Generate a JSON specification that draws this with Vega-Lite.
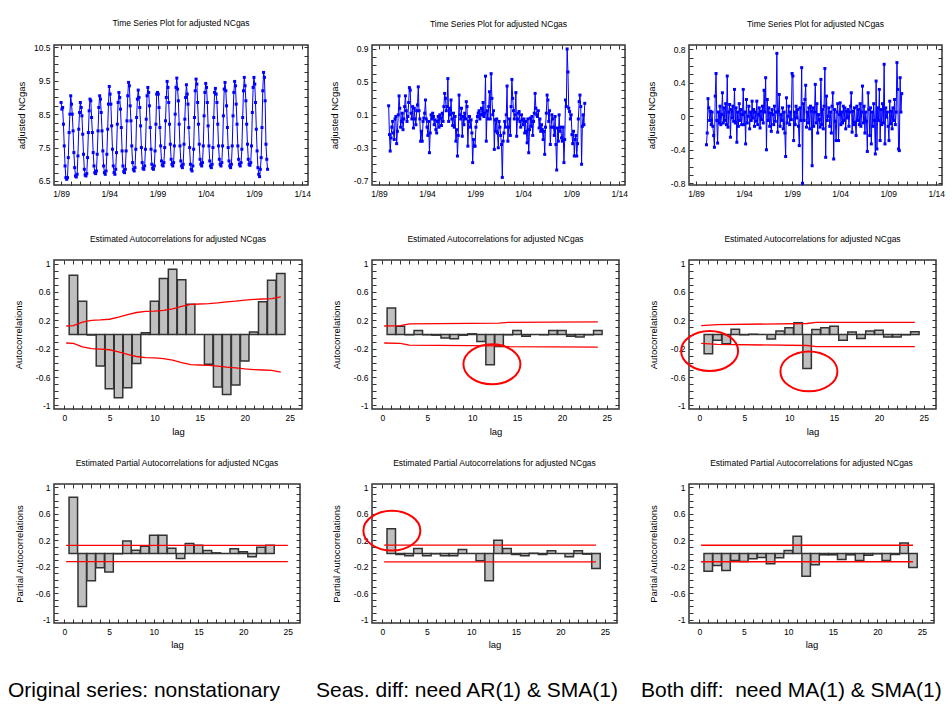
{
"$schema": "https://vega.github.io/schema/vega-lite/v6.json",
"background": "white",
"padding": {"left": 8, "top": 18, "right": 0, "bottom": 0},
"columns": 3,
"align": "each",
"bounds": "flush",
"spacing": {"row": 75, "column": 64},
"datasets": {
"ts1": [
{"t":"1989-01","v":8.85},{"t":"1989-02","v":8.65},{"t":"1989-03","v":8.7},{"t":"1989-04","v":8.2},{"t":"1989-05","v":7.55},{"t":"1989-06","v":6.95},{"t":"1989-07","v":6.6},{"t":"1989-08","v":6.55},{"t":"1989-09","v":6.6},{"t":"1989-10","v":7.2},{"t":"1989-11","v":7.95},{"t":"1989-12","v":8.5},
{"t":"1990-01","v":9.05},{"t":"1990-02","v":8.8},{"t":"1990-03","v":8.5},{"t":"1990-04","v":8.0},{"t":"1990-05","v":7.35},{"t":"1990-06","v":6.9},{"t":"1990-07","v":6.65},{"t":"1990-08","v":6.62},{"t":"1990-09","v":6.7},{"t":"1990-10","v":7.25},{"t":"1990-11","v":8.05},{"t":"1990-12","v":8.55},
{"t":"1991-01","v":8.85},{"t":"1991-02","v":8.7},{"t":"1991-03","v":8.45},{"t":"1991-04","v":7.9},{"t":"1991-05","v":7.3},{"t":"1991-06","v":6.85},{"t":"1991-07","v":6.68},{"t":"1991-08","v":6.65},{"t":"1991-09","v":6.72},{"t":"1991-10","v":7.2},{"t":"1991-11","v":7.95},{"t":"1991-12","v":8.6},
{"t":"1992-01","v":8.95},{"t":"1992-02","v":8.9},{"t":"1992-03","v":8.4},{"t":"1992-04","v":7.95},{"t":"1992-05","v":7.35},{"t":"1992-06","v":6.95},{"t":"1992-07","v":6.75},{"t":"1992-08","v":6.72},{"t":"1992-09","v":6.8},{"t":"1992-10","v":7.3},{"t":"1992-11","v":8.0},{"t":"1992-12","v":8.7},
{"t":"1993-01","v":9.05},{"t":"1993-02","v":8.95},{"t":"1993-03","v":8.55},{"t":"1993-04","v":8.0},{"t":"1993-05","v":7.4},{"t":"1993-06","v":6.95},{"t":"1993-07","v":6.75},{"t":"1993-08","v":6.7},{"t":"1993-09","v":6.8},{"t":"1993-10","v":7.3},{"t":"1993-11","v":8.05},{"t":"1993-12","v":8.8},
{"t":"1994-01","v":9.33},{"t":"1994-02","v":9.1},{"t":"1994-03","v":8.8},{"t":"1994-04","v":8.15},{"t":"1994-05","v":7.45},{"t":"1994-06","v":6.95},{"t":"1994-07","v":6.75},{"t":"1994-08","v":6.7},{"t":"1994-09","v":6.85},{"t":"1994-10","v":7.35},{"t":"1994-11","v":8.2},{"t":"1994-12","v":8.85},
{"t":"1995-01","v":9.15},{"t":"1995-02","v":9.0},{"t":"1995-03","v":8.65},{"t":"1995-04","v":8.1},{"t":"1995-05","v":7.4},{"t":"1995-06","v":6.95},{"t":"1995-07","v":6.78},{"t":"1995-08","v":6.75},{"t":"1995-09","v":6.85},{"t":"1995-10","v":7.4},{"t":"1995-11","v":8.3},{"t":"1995-12","v":9.05},
{"t":"1996-01","v":9.45},{"t":"1996-02","v":9.35},{"t":"1996-03","v":8.75},{"t":"1996-04","v":8.3},{"t":"1996-05","v":7.55},{"t":"1996-06","v":7.05},{"t":"1996-07","v":6.85},{"t":"1996-08","v":6.8},{"t":"1996-09","v":6.9},{"t":"1996-10","v":7.45},{"t":"1996-11","v":8.4},{"t":"1996-12","v":8.95},
{"t":"1997-01","v":9.22},{"t":"1997-02","v":9.0},{"t":"1997-03","v":8.7},{"t":"1997-04","v":8.15},{"t":"1997-05","v":7.5},{"t":"1997-06","v":7.05},{"t":"1997-07","v":6.88},{"t":"1997-08","v":6.85},{"t":"1997-09","v":6.95},{"t":"1997-10","v":7.45},{"t":"1997-11","v":8.35},{"t":"1997-12","v":9.05},
{"t":"1998-01","v":9.3},{"t":"1998-02","v":9.15},{"t":"1998-03","v":8.75},{"t":"1998-04","v":8.1},{"t":"1998-05","v":7.45},{"t":"1998-06","v":7.0},{"t":"1998-07","v":6.88},{"t":"1998-08","v":6.85},{"t":"1998-09","v":6.95},{"t":"1998-10","v":7.4},{"t":"1998-11","v":8.2},{"t":"1998-12","v":9.1},
{"t":"1999-01","v":9.15},{"t":"1999-02","v":9.1},{"t":"1999-03","v":8.7},{"t":"1999-04","v":8.1},{"t":"1999-05","v":7.55},{"t":"1999-06","v":7.1},{"t":"1999-07","v":6.98},{"t":"1999-08","v":6.95},{"t":"1999-09","v":7.05},{"t":"1999-10","v":7.5},{"t":"1999-11","v":8.3},{"t":"1999-12","v":9.0},
{"t":"2000-01","v":9.48},{"t":"2000-02","v":9.3},{"t":"2000-03","v":8.85},{"t":"2000-04","v":8.2},{"t":"2000-05","v":7.6},{"t":"2000-06","v":7.15},{"t":"2000-07","v":7.0},{"t":"2000-08","v":6.95},{"t":"2000-09","v":7.05},{"t":"2000-10","v":7.55},{"t":"2000-11","v":8.5},{"t":"2000-12","v":9.3},
{"t":"2001-01","v":9.58},{"t":"2001-02","v":9.25},{"t":"2001-03","v":8.9},{"t":"2001-04","v":8.2},{"t":"2001-05","v":7.55},{"t":"2001-06","v":7.1},{"t":"2001-07","v":6.95},{"t":"2001-08","v":6.9},{"t":"2001-09","v":7.0},{"t":"2001-10","v":7.6},{"t":"2001-11","v":8.35},{"t":"2001-12","v":9.0},
{"t":"2002-01","v":9.38},{"t":"2002-02","v":9.1},{"t":"2002-03","v":8.8},{"t":"2002-04","v":8.1},{"t":"2002-05","v":7.5},{"t":"2002-06","v":7.0},{"t":"2002-07","v":6.85},{"t":"2002-08","v":6.8},{"t":"2002-09","v":6.95},{"t":"2002-10","v":7.45},{"t":"2002-11","v":8.4},{"t":"2002-12","v":9.2},
{"t":"2003-01","v":9.55},{"t":"2003-02","v":9.4},{"t":"2003-03","v":8.85},{"t":"2003-04","v":8.2},{"t":"2003-05","v":7.6},{"t":"2003-06","v":7.15},{"t":"2003-07","v":7.0},{"t":"2003-08","v":6.95},{"t":"2003-09","v":7.05},{"t":"2003-10","v":7.55},{"t":"2003-11","v":8.45},{"t":"2003-12","v":9.15},
{"t":"2004-01","v":9.42},{"t":"2004-02","v":9.3},{"t":"2004-03","v":8.85},{"t":"2004-04","v":8.15},{"t":"2004-05","v":7.55},{"t":"2004-06","v":7.1},{"t":"2004-07","v":6.95},{"t":"2004-08","v":6.9},{"t":"2004-09","v":7.0},{"t":"2004-10","v":7.5},{"t":"2004-11","v":8.4},{"t":"2004-12","v":9.15},
{"t":"2005-01","v":9.27},{"t":"2005-02","v":9.1},{"t":"2005-03","v":8.85},{"t":"2005-04","v":8.2},{"t":"2005-05","v":7.55},{"t":"2005-06","v":7.15},{"t":"2005-07","v":7.0},{"t":"2005-08","v":6.95},{"t":"2005-09","v":7.05},{"t":"2005-10","v":7.55},{"t":"2005-11","v":8.45},{"t":"2005-12","v":9.25},
{"t":"2006-01","v":9.45},{"t":"2006-02","v":9.2},{"t":"2006-03","v":8.75},{"t":"2006-04","v":8.1},{"t":"2006-05","v":7.5},{"t":"2006-06","v":7.1},{"t":"2006-07","v":6.95},{"t":"2006-08","v":6.9},{"t":"2006-09","v":7.0},{"t":"2006-10","v":7.55},{"t":"2006-11","v":8.45},{"t":"2006-12","v":9.15},
{"t":"2007-01","v":9.48},{"t":"2007-02","v":9.35},{"t":"2007-03","v":8.8},{"t":"2007-04","v":8.2},{"t":"2007-05","v":7.55},{"t":"2007-06","v":7.15},{"t":"2007-07","v":7.0},{"t":"2007-08","v":6.95},{"t":"2007-09","v":7.05},{"t":"2007-10","v":7.45},{"t":"2007-11","v":8.4},{"t":"2007-12","v":9.2},
{"t":"2008-01","v":9.6},{"t":"2008-02","v":9.35},{"t":"2008-03","v":8.9},{"t":"2008-04","v":8.2},{"t":"2008-05","v":7.6},{"t":"2008-06","v":7.15},{"t":"2008-07","v":7.0},{"t":"2008-08","v":6.97},{"t":"2008-09","v":7.05},{"t":"2008-10","v":7.55},{"t":"2008-11","v":8.55},{"t":"2008-12","v":9.3},
{"t":"2009-01","v":9.6},{"t":"2009-02","v":9.4},{"t":"2009-03","v":8.85},{"t":"2009-04","v":8.05},{"t":"2009-05","v":7.4},{"t":"2009-06","v":6.9},{"t":"2009-07","v":6.7},{"t":"2009-08","v":6.63},{"t":"2009-09","v":6.85},{"t":"2009-10","v":7.2},{"t":"2009-11","v":8.1},{"t":"2009-12","v":9.2},
{"t":"2010-01","v":9.75},{"t":"2010-02","v":9.6},{"t":"2010-03","v":8.9},{"t":"2010-04","v":7.6},{"t":"2010-05","v":7.15},{"t":"2010-06","v":6.85}
],
"ts2": [
{"t":"1990-01","v":0.21},{"t":"1990-02","v":-0.14},{"t":"1990-03","v":-0.34},{"t":"1990-04","v":-0.18},{"t":"1990-05","v":-0.05},{"t":"1990-06","v":0.02},{"t":"1990-07","v":-0.12},{"t":"1990-08","v":-0.2},{"t":"1990-09","v":0.05},{"t":"1990-10","v":0.08},{"t":"1990-11","v":-0.25},{"t":"1990-12","v":-0.1},
{"t":"1991-01","v":0.1},{"t":"1991-02","v":0.33},{"t":"1991-03","v":0.18},{"t":"1991-04","v":-0.05},{"t":"1991-05","v":0.02},{"t":"1991-06","v":0.12},{"t":"1991-07","v":-0.08},{"t":"1991-08","v":0.05},{"t":"1991-09","v":0.2},{"t":"1991-10","v":0.33},{"t":"1991-11","v":0.15},{"t":"1991-12","v":0.02},
{"t":"1992-01","v":0.08},{"t":"1992-02","v":0.25},{"t":"1992-03","v":0.43},{"t":"1992-04","v":0.4},{"t":"1992-05","v":0.12},{"t":"1992-06","v":0.05},{"t":"1992-07","v":0.2},{"t":"1992-08","v":-0.06},{"t":"1992-09","v":0.18},{"t":"1992-10","v":0.05},{"t":"1992-11","v":-0.02},{"t":"1992-12","v":0.15},
{"t":"1993-01","v":0.22},{"t":"1993-02","v":0.44},{"t":"1993-03","v":0.15},{"t":"1993-04","v":0.05},{"t":"1993-05","v":-0.22},{"t":"1993-06","v":-0.1},{"t":"1993-07","v":-0.22},{"t":"1993-08","v":0.02},{"t":"1993-09","v":0.06},{"t":"1993-10","v":0.12},{"t":"1993-11","v":0.28},{"t":"1993-12","v":0.05},
{"t":"1994-01","v":-0.05},{"t":"1994-02","v":-0.15},{"t":"1994-03","v":0.02},{"t":"1994-04","v":-0.36},{"t":"1994-05","v":-0.12},{"t":"1994-06","v":0.1},{"t":"1994-07","v":0.05},{"t":"1994-08","v":0.12},{"t":"1994-09","v":0.08},{"t":"1994-10","v":-0.02},{"t":"1994-11","v":0.04},{"t":"1994-12","v":-0.08},
{"t":"1995-01","v":-0.12},{"t":"1995-02","v":0.02},{"t":"1995-03","v":0.08},{"t":"1995-04","v":-0.05},{"t":"1995-05","v":0.1},{"t":"1995-06","v":0.06},{"t":"1995-07","v":-0.03},{"t":"1995-08","v":0.12},{"t":"1995-09","v":0.02},{"t":"1995-10","v":0.2},{"t":"1995-11","v":0.36},{"t":"1995-12","v":0.3},
{"t":"1996-01","v":0.15},{"t":"1996-02","v":0.2},{"t":"1996-03","v":0.54},{"t":"1996-04","v":0.02},{"t":"1996-05","v":0.18},{"t":"1996-06","v":0.1},{"t":"1996-07","v":0.28},{"t":"1996-08","v":0.05},{"t":"1996-09","v":-0.03},{"t":"1996-10","v":0.12},{"t":"1996-11","v":-0.05},{"t":"1996-12","v":0.08},
{"t":"1997-01","v":-0.22},{"t":"1997-02","v":-0.08},{"t":"1997-03","v":-0.4},{"t":"1997-04","v":-0.15},{"t":"1997-05","v":0.34},{"t":"1997-06","v":0.1},{"t":"1997-07","v":0.05},{"t":"1997-08","v":0.18},{"t":"1997-09","v":-0.16},{"t":"1997-10","v":0.08},{"t":"1997-11","v":-0.02},{"t":"1997-12","v":0.12},
{"t":"1998-01","v":0.05},{"t":"1998-02","v":0.26},{"t":"1998-03","v":0.2},{"t":"1998-04","v":-0.28},{"t":"1998-05","v":0.02},{"t":"1998-06","v":0.08},{"t":"1998-07","v":-0.05},{"t":"1998-08","v":0.04},{"t":"1998-09","v":-0.12},{"t":"1998-10","v":-0.48},{"t":"1998-11","v":-0.2},{"t":"1998-12","v":-0.28},
{"t":"1999-01","v":-0.28},{"t":"1999-02","v":-0.05},{"t":"1999-03","v":0.02},{"t":"1999-04","v":0.08},{"t":"1999-05","v":0.12},{"t":"1999-06","v":0.15},{"t":"1999-07","v":0.05},{"t":"1999-08","v":0.1},{"t":"1999-09","v":0.18},{"t":"1999-10","v":0.1},{"t":"1999-11","v":0.25},{"t":"1999-12","v":0.08},
{"t":"2000-01","v":0.12},{"t":"2000-02","v":0.57},{"t":"2000-03","v":-0.22},{"t":"2000-04","v":0.15},{"t":"2000-05","v":0.05},{"t":"2000-06","v":0.2},{"t":"2000-07","v":0.38},{"t":"2000-08","v":0.05},{"t":"2000-09","v":0.6},{"t":"2000-10","v":0.3},{"t":"2000-11","v":0.1},{"t":"2000-12","v":0.15},
{"t":"2001-01","v":-0.32},{"t":"2001-02","v":0.04},{"t":"2001-03","v":-0.1},{"t":"2001-04","v":0.05},{"t":"2001-05","v":-0.12},{"t":"2001-06","v":-0.3},{"t":"2001-07","v":0.02},{"t":"2001-08","v":-0.05},{"t":"2001-09","v":-0.15},{"t":"2001-10","v":-0.26},{"t":"2001-11","v":-0.66},{"t":"2001-12","v":-0.22},
{"t":"2002-01","v":-0.12},{"t":"2002-02","v":0.02},{"t":"2002-03","v":-0.05},{"t":"2002-04","v":0.1},{"t":"2002-05","v":0.45},{"t":"2002-06","v":-0.22},{"t":"2002-07","v":-0.05},{"t":"2002-08","v":0.05},{"t":"2002-09","v":-0.15},{"t":"2002-10","v":0.2},{"t":"2002-11","v":0.53},{"t":"2002-12","v":0.3},
{"t":"2003-01","v":0.15},{"t":"2003-02","v":0.05},{"t":"2003-03","v":0.1},{"t":"2003-04","v":0.37},{"t":"2003-05","v":-0.16},{"t":"2003-06","v":0.05},{"t":"2003-07","v":0.12},{"t":"2003-08","v":0.14},{"t":"2003-09","v":0.02},{"t":"2003-10","v":-0.05},{"t":"2003-11","v":0.1},{"t":"2003-12","v":0.04},
{"t":"2004-01","v":-0.02},{"t":"2004-02","v":0.05},{"t":"2004-03","v":-0.12},{"t":"2004-04","v":0.02},{"t":"2004-05","v":-0.1},{"t":"2004-06","v":-0.24},{"t":"2004-07","v":0.05},{"t":"2004-08","v":-0.36},{"t":"2004-09","v":-0.08},{"t":"2004-10","v":0.06},{"t":"2004-11","v":-0.04},{"t":"2004-12","v":0.08},
{"t":"2005-01","v":-0.15},{"t":"2005-02","v":0.02},{"t":"2005-03","v":0.12},{"t":"2005-04","v":0.36},{"t":"2005-05","v":0.18},{"t":"2005-06","v":0.1},{"t":"2005-07","v":0.08},{"t":"2005-08","v":0.15},{"t":"2005-09","v":-0.06},{"t":"2005-10","v":0.05},{"t":"2005-11","v":-0.1},{"t":"2005-12","v":-0.02},
{"t":"2006-01","v":-0.08},{"t":"2006-02","v":-0.2},{"t":"2006-03","v":-0.1},{"t":"2006-04","v":-0.38},{"t":"2006-05","v":-0.05},{"t":"2006-06","v":0.12},{"t":"2006-07","v":0.34},{"t":"2006-08","v":0.28},{"t":"2006-09","v":0.02},{"t":"2006-10","v":0.15},{"t":"2006-11","v":-0.26},{"t":"2006-12","v":-0.05},
{"t":"2007-01","v":0.1},{"t":"2007-02","v":0.05},{"t":"2007-03","v":-0.05},{"t":"2007-04","v":-0.15},{"t":"2007-05","v":0.08},{"t":"2007-06","v":-0.26},{"t":"2007-07","v":-0.57},{"t":"2007-08","v":-0.06},{"t":"2007-09","v":-0.22},{"t":"2007-10","v":0.1},{"t":"2007-11","v":-0.1},{"t":"2007-12","v":-0.05},
{"t":"2008-01","v":-0.18},{"t":"2008-02","v":-0.22},{"t":"2008-03","v":-0.05},{"t":"2008-04","v":-0.48},{"t":"2008-05","v":-0.2},{"t":"2008-06","v":0.28},{"t":"2008-07","v":0.2},{"t":"2008-08","v":0.9},{"t":"2008-09","v":0.62},{"t":"2008-10","v":0.18},{"t":"2008-11","v":0.14},{"t":"2008-12","v":0.05},
{"t":"2009-01","v":0.1},{"t":"2009-02","v":-0.14},{"t":"2009-03","v":-0.25},{"t":"2009-04","v":-0.1},{"t":"2009-05","v":-0.4},{"t":"2009-06","v":-0.2},{"t":"2009-07","v":-0.15},{"t":"2009-08","v":-0.4},{"t":"2009-09","v":-0.25},{"t":"2009-10","v":0.05},{"t":"2009-11","v":0.26},{"t":"2009-12","v":0.34},
{"t":"2010-01","v":0.2},{"t":"2010-02","v":-0.5},{"t":"2010-03","v":-0.04},{"t":"2010-04","v":0.1},{"t":"2010-05","v":-0.02},{"t":"2010-06","v":0.24}
],
"ts3": [
{"t":"1990-02","v":-0.34},{"t":"1990-03","v":-0.2},{"t":"1990-04","v":0.21},{"t":"1990-05","v":0.1},{"t":"1990-06","v":-0.05},{"t":"1990-07","v":0.06},{"t":"1990-08","v":-0.1},{"t":"1990-09","v":0.05},{"t":"1990-10","v":-0.12},{"t":"1990-11","v":-0.23},{"t":"1990-12","v":-0.37},
{"t":"1991-01","v":0.24},{"t":"1991-02","v":0.51},{"t":"1991-03","v":-0.05},{"t":"1991-04","v":-0.32},{"t":"1991-05","v":0.05},{"t":"1991-06","v":-0.08},{"t":"1991-07","v":0.12},{"t":"1991-08","v":-0.1},{"t":"1991-09","v":0.02},{"t":"1991-10","v":0.28},{"t":"1991-11","v":-0.08},{"t":"1991-12","v":0.1},
{"t":"1992-01","v":-0.05},{"t":"1992-02","v":0.15},{"t":"1992-03","v":-0.1},{"t":"1992-04","v":0.48},{"t":"1992-05","v":-0.13},{"t":"1992-06","v":0.05},{"t":"1992-07","v":0.14},{"t":"1992-08","v":-0.25},{"t":"1992-09","v":0.08},{"t":"1992-10","v":-0.02},{"t":"1992-11","v":0.12},{"t":"1992-12","v":-0.06},
{"t":"1993-01","v":0.32},{"t":"1993-02","v":-0.08},{"t":"1993-03","v":0.1},{"t":"1993-04","v":-0.31},{"t":"1993-05","v":0.05},{"t":"1993-06","v":-0.12},{"t":"1993-07","v":0.15},{"t":"1993-08","v":-0.05},{"t":"1993-09","v":0.08},{"t":"1993-10","v":-0.1},{"t":"1993-11","v":0.02},{"t":"1993-12","v":0.32},
{"t":"1994-01","v":-0.1},{"t":"1994-02","v":0.05},{"t":"1994-03","v":-0.33},{"t":"1994-04","v":0.2},{"t":"1994-05","v":-0.08},{"t":"1994-06","v":0.0},{"t":"1994-07","v":0.12},{"t":"1994-08","v":-0.15},{"t":"1994-09","v":0.05},{"t":"1994-10","v":-0.05},{"t":"1994-11","v":0.18},{"t":"1994-12","v":-0.02},
{"t":"1995-01","v":0.08},{"t":"1995-02","v":-0.12},{"t":"1995-03","v":0.05},{"t":"1995-04","v":-0.06},{"t":"1995-05","v":0.18},{"t":"1995-06","v":-0.1},{"t":"1995-07","v":0.02},{"t":"1995-08","v":0.1},{"t":"1995-09","v":-0.14},{"t":"1995-10","v":0.06},{"t":"1995-11","v":-0.04},{"t":"1995-12","v":0.12},
{"t":"1996-01","v":-0.08},{"t":"1996-02","v":0.31},{"t":"1996-03","v":0.05},{"t":"1996-04","v":0.46},{"t":"1996-05","v":-0.4},{"t":"1996-06","v":0.2},{"t":"1996-07","v":-0.05},{"t":"1996-08","v":0.1},{"t":"1996-09","v":-0.12},{"t":"1996-10","v":0.04},{"t":"1996-11","v":-0.18},{"t":"1996-12","v":0.08},
{"t":"1997-01","v":0.02},{"t":"1997-02","v":-0.1},{"t":"1997-03","v":0.12},{"t":"1997-04","v":-0.06},{"t":"1997-05","v":0.05},{"t":"1997-06","v":0.75},{"t":"1997-07","v":-0.19},{"t":"1997-08","v":0.06},{"t":"1997-09","v":0.26},{"t":"1997-10","v":-0.12},{"t":"1997-11","v":0.02},{"t":"1997-12","v":-0.05},
{"t":"1998-01","v":0.1},{"t":"1998-02","v":-0.15},{"t":"1998-03","v":0.05},{"t":"1998-04","v":-0.2},{"t":"1998-05","v":-0.48},{"t":"1998-06","v":0.22},{"t":"1998-07","v":-0.08},{"t":"1998-08","v":0.0},{"t":"1998-09","v":0.12},{"t":"1998-10","v":-0.1},{"t":"1998-11","v":0.05},{"t":"1998-12","v":-0.04},
{"t":"1999-01","v":0.51},{"t":"1999-02","v":0.48},{"t":"1999-03","v":-0.29},{"t":"1999-04","v":0.05},{"t":"1999-05","v":-0.1},{"t":"1999-06","v":0.12},{"t":"1999-07","v":-0.02},{"t":"1999-08","v":0.08},{"t":"1999-09","v":-0.12},{"t":"1999-10","v":-0.35},{"t":"1999-11","v":0.1},{"t":"1999-12","v":-0.05},
{"t":"2000-01","v":0.58},{"t":"2000-02","v":-0.8},{"t":"2000-03","v":0.15},{"t":"2000-04","v":-0.05},{"t":"2000-05","v":0.2},{"t":"2000-06","v":0.37},{"t":"2000-07","v":-0.13},{"t":"2000-08","v":0.05},{"t":"2000-09","v":-0.08},{"t":"2000-10","v":0.1},{"t":"2000-11","v":-0.15},{"t":"2000-12","v":0.12},
{"t":"2001-01","v":0.06},{"t":"2001-02","v":-0.59},{"t":"2001-03","v":0.1},{"t":"2001-04","v":-0.12},{"t":"2001-05","v":0.05},{"t":"2001-06","v":0.38},{"t":"2001-07","v":-0.08},{"t":"2001-08","v":0.15},{"t":"2001-09","v":-0.2},{"t":"2001-10","v":0.02},{"t":"2001-11","v":-0.04},{"t":"2001-12","v":-0.13},
{"t":"2002-01","v":0.44},{"t":"2002-02","v":-0.1},{"t":"2002-03","v":0.08},{"t":"2002-04","v":-0.15},{"t":"2002-05","v":0.12},{"t":"2002-06","v":0.57},{"t":"2002-07","v":-0.49},{"t":"2002-08","v":0.24},{"t":"2002-09","v":-0.05},{"t":"2002-10","v":0.0},{"t":"2002-11","v":0.1},{"t":"2002-12","v":-0.12},
{"t":"2003-01","v":0.05},{"t":"2003-02","v":-0.2},{"t":"2003-03","v":0.12},{"t":"2003-04","v":0.28},{"t":"2003-05","v":-0.51},{"t":"2003-06","v":0.08},{"t":"2003-07","v":-0.06},{"t":"2003-08","v":-0.29},{"t":"2003-09","v":0.05},{"t":"2003-10","v":0.15},{"t":"2003-11","v":-0.29},{"t":"2003-12","v":0.02},
{"t":"2004-01","v":0.16},{"t":"2004-02","v":-0.1},{"t":"2004-03","v":0.05},{"t":"2004-04","v":-0.08},{"t":"2004-05","v":0.12},{"t":"2004-06","v":-0.05},{"t":"2004-07","v":0.1},{"t":"2004-08","v":-0.15},{"t":"2004-09","v":0.06},{"t":"2004-10","v":-0.02},{"t":"2004-11","v":0.08},{"t":"2004-12","v":-0.12},
{"t":"2005-01","v":0.05},{"t":"2005-02","v":0.12},{"t":"2005-03","v":0.28},{"t":"2005-04","v":-0.19},{"t":"2005-05","v":0.06},{"t":"2005-06","v":-0.1},{"t":"2005-07","v":0.1},{"t":"2005-08","v":-0.07},{"t":"2005-09","v":-0.23},{"t":"2005-10","v":0.12},{"t":"2005-11","v":-0.05},{"t":"2005-12","v":0.08},
{"t":"2006-01","v":-0.1},{"t":"2006-02","v":0.15},{"t":"2006-03","v":-0.12},{"t":"2006-04","v":0.05},{"t":"2006-05","v":0.36},{"t":"2006-06","v":-0.08},{"t":"2006-07","v":0.12},{"t":"2006-08","v":-0.2},{"t":"2006-09","v":0.05},{"t":"2006-10","v":-0.06},{"t":"2006-11","v":-0.42},{"t":"2006-12","v":0.28},
{"t":"2007-01","v":0.08},{"t":"2007-02","v":-0.23},{"t":"2007-03","v":0.1},{"t":"2007-04","v":-0.33},{"t":"2007-05","v":0.05},{"t":"2007-06","v":-0.12},{"t":"2007-07","v":0.15},{"t":"2007-08","v":-0.05},{"t":"2007-09","v":-0.45},{"t":"2007-10","v":0.42},{"t":"2007-11","v":-0.39},{"t":"2007-12","v":0.1},
{"t":"2008-01","v":-0.05},{"t":"2008-02","v":0.32},{"t":"2008-03","v":-0.29},{"t":"2008-04","v":0.08},{"t":"2008-05","v":-0.1},{"t":"2008-06","v":0.15},{"t":"2008-07","v":-0.08},{"t":"2008-08","v":0.62},{"t":"2008-09","v":-0.33},{"t":"2008-10","v":0.1},{"t":"2008-11","v":-0.01},{"t":"2008-12","v":0.05},
{"t":"2009-01","v":-0.12},{"t":"2009-02","v":-0.29},{"t":"2009-03","v":0.18},{"t":"2009-04","v":-0.09},{"t":"2009-05","v":0.06},{"t":"2009-06","v":-0.15},{"t":"2009-07","v":0.1},{"t":"2009-08","v":-0.05},{"t":"2009-09","v":0.2},{"t":"2009-10","v":-0.1},{"t":"2009-11","v":0.05},{"t":"2009-12","v":0.64},
{"t":"2010-01","v":0.32},{"t":"2010-02","v":-0.39},{"t":"2010-03","v":-0.41},{"t":"2010-04","v":0.46},{"t":"2010-05","v":0.05},{"t":"2010-06","v":0.27}
],
"a1": [{"lag":1,"r":0.835},{"lag":2,"r":0.47},{"lag":3,"r":-0.008},{"lag":4,"r":-0.445},{"lag":5,"r":-0.765},{"lag":6,"r":-0.89},{"lag":7,"r":-0.75},{"lag":8,"r":-0.41},{"lag":9,"r":0.025},{"lag":10,"r":0.47},{"lag":11,"r":0.79},{"lag":12,"r":0.92},{"lag":13,"r":0.77},{"lag":14,"r":0.425},{"lag":15,"r":0.0},{"lag":16,"r":-0.42},{"lag":17,"r":-0.74},{"lag":18,"r":-0.845},{"lag":19,"r":-0.71},{"lag":20,"r":-0.375},{"lag":21,"r":0.035},{"lag":22,"r":0.46},{"lag":23,"r":0.765},{"lag":24,"r":0.86}],
"a2": [{"lag":1,"r":0.375},{"lag":2,"r":0.115},{"lag":3,"r":-0.005},{"lag":4,"r":0.055},{"lag":5,"r":-0.005},{"lag":6,"r":-0.01},{"lag":7,"r":-0.05},{"lag":8,"r":-0.06},{"lag":9,"r":-0.01},{"lag":10,"r":0.01},{"lag":11,"r":-0.1},{"lag":12,"r":-0.425},{"lag":13,"r":-0.17},{"lag":14,"r":-0.005},{"lag":15,"r":0.055},{"lag":16,"r":-0.025},{"lag":17,"r":0.0},{"lag":18,"r":-0.005},{"lag":19,"r":0.055},{"lag":20,"r":0.055},{"lag":21,"r":-0.025},{"lag":22,"r":-0.035},{"lag":23,"r":-0.005},{"lag":24,"r":0.055}],
"a3": [{"lag":1,"r":-0.27},{"lag":2,"r":-0.08},{"lag":3,"r":-0.13},{"lag":4,"r":0.075},{"lag":5,"r":-0.005},{"lag":6,"r":0.005},{"lag":7,"r":0.0},{"lag":8,"r":-0.065},{"lag":9,"r":0.05},{"lag":10,"r":0.095},{"lag":11,"r":0.165},{"lag":12,"r":-0.48},{"lag":13,"r":0.07},{"lag":14,"r":0.095},{"lag":15,"r":0.115},{"lag":16,"r":-0.08},{"lag":17,"r":0.035},{"lag":18,"r":-0.055},{"lag":19,"r":0.05},{"lag":20,"r":0.06},{"lag":21,"r":-0.035},{"lag":22,"r":-0.035},{"lag":23,"r":-0.005},{"lag":24,"r":0.04}],
"q1": [{"lag":1,"r":0.85},{"lag":2,"r":-0.8},{"lag":3,"r":-0.41},{"lag":4,"r":-0.215},{"lag":5,"r":-0.28},{"lag":6,"r":-0.005},{"lag":7,"r":0.19},{"lag":8,"r":0.05},{"lag":9,"r":0.11},{"lag":10,"r":0.275},{"lag":11,"r":0.275},{"lag":12,"r":0.08},{"lag":13,"r":-0.075},{"lag":14,"r":0.15},{"lag":15,"r":0.125},{"lag":16,"r":0.045},{"lag":17,"r":0.01},{"lag":18,"r":0.0},{"lag":19,"r":0.07},{"lag":20,"r":0.025},{"lag":21,"r":-0.05},{"lag":22,"r":0.095},{"lag":23,"r":0.125}],
"q2": [{"lag":1,"r":0.375},{"lag":2,"r":-0.015},{"lag":3,"r":-0.035},{"lag":4,"r":0.075},{"lag":5,"r":-0.035},{"lag":6,"r":-0.005},{"lag":7,"r":-0.035},{"lag":8,"r":-0.035},{"lag":9,"r":0.06},{"lag":10,"r":0.0},{"lag":11,"r":-0.11},{"lag":12,"r":-0.41},{"lag":13,"r":0.2},{"lag":14,"r":0.075},{"lag":15,"r":-0.015},{"lag":16,"r":-0.035},{"lag":17,"r":0.005},{"lag":18,"r":-0.015},{"lag":19,"r":0.04},{"lag":20,"r":0.0},{"lag":21,"r":-0.05},{"lag":22,"r":0.04},{"lag":23,"r":-0.01},{"lag":24,"r":-0.225}],
"q3": [{"lag":1,"r":-0.27},{"lag":2,"r":-0.18},{"lag":3,"r":-0.255},{"lag":4,"r":-0.105},{"lag":5,"r":-0.12},{"lag":6,"r":-0.08},{"lag":7,"r":-0.06},{"lag":8,"r":-0.155},{"lag":9,"r":-0.065},{"lag":10,"r":0.045},{"lag":11,"r":0.26},{"lag":12,"r":-0.345},{"lag":13,"r":-0.17},{"lag":14,"r":-0.02},{"lag":15,"r":-0.02},{"lag":16,"r":-0.09},{"lag":17,"r":-0.02},{"lag":18,"r":-0.105},{"lag":19,"r":-0.025},{"lag":20,"r":-0.005},{"lag":21,"r":-0.105},{"lag":22,"r":-0.015},{"lag":23,"r":0.16},{"lag":24,"r":-0.21}],
"la1": [
{"lag":0.2,"r":0.12,"k":"u"},{"lag":1,"r":0.125,"k":"u"},{"lag":2,"r":0.175,"k":"u"},{"lag":3,"r":0.2,"k":"u"},{"lag":4,"r":0.205,"k":"u"},{"lag":5,"r":0.215,"k":"u"},{"lag":6,"r":0.245,"k":"u"},{"lag":7,"r":0.28,"k":"u"},{"lag":8,"r":0.31,"k":"u"},{"lag":9,"r":0.325,"k":"u"},{"lag":10,"r":0.33,"k":"u"},{"lag":11,"r":0.34,"k":"u"},{"lag":12,"r":0.36,"k":"u"},{"lag":13,"r":0.395,"k":"u"},{"lag":14,"r":0.425,"k":"u"},{"lag":15,"r":0.43,"k":"u"},{"lag":16,"r":0.435,"k":"u"},{"lag":17,"r":0.445,"k":"u"},{"lag":18,"r":0.46,"k":"u"},{"lag":19,"r":0.47,"k":"u"},{"lag":20,"r":0.485,"k":"u"},{"lag":21,"r":0.495,"k":"u"},{"lag":22,"r":0.5,"k":"u"},{"lag":23,"r":0.505,"k":"u"},{"lag":24,"r":0.53,"k":"u"},
{"lag":0.2,"r":-0.12,"k":"l"},{"lag":1,"r":-0.125,"k":"l"},{"lag":2,"r":-0.175,"k":"l"},{"lag":3,"r":-0.2,"k":"l"},{"lag":4,"r":-0.205,"k":"l"},{"lag":5,"r":-0.215,"k":"l"},{"lag":6,"r":-0.245,"k":"l"},{"lag":7,"r":-0.28,"k":"l"},{"lag":8,"r":-0.31,"k":"l"},{"lag":9,"r":-0.325,"k":"l"},{"lag":10,"r":-0.33,"k":"l"},{"lag":11,"r":-0.34,"k":"l"},{"lag":12,"r":-0.36,"k":"l"},{"lag":13,"r":-0.395,"k":"l"},{"lag":14,"r":-0.425,"k":"l"},{"lag":15,"r":-0.43,"k":"l"},{"lag":16,"r":-0.435,"k":"l"},{"lag":17,"r":-0.445,"k":"l"},{"lag":18,"r":-0.46,"k":"l"},{"lag":19,"r":-0.47,"k":"l"},{"lag":20,"r":-0.485,"k":"l"},{"lag":21,"r":-0.495,"k":"l"},{"lag":22,"r":-0.5,"k":"l"},{"lag":23,"r":-0.505,"k":"l"},{"lag":24,"r":-0.53,"k":"l"}],
"la2": [{"lag":0.2,"r":0.12,"k":"u"},{"lag":2,"r":0.125,"k":"u"},{"lag":3,"r":0.15,"k":"u"},{"lag":13,"r":0.16,"k":"u"},{"lag":14,"r":0.172,"k":"u"},{"lag":24,"r":0.177,"k":"u"},
{"lag":0.2,"r":-0.12,"k":"l"},{"lag":2,"r":-0.125,"k":"l"},{"lag":3,"r":-0.15,"k":"l"},{"lag":13,"r":-0.16,"k":"l"},{"lag":14,"r":-0.172,"k":"l"},{"lag":24,"r":-0.177,"k":"l"}],
"la3": [{"lag":0.2,"r":0.125,"k":"u"},{"lag":2,"r":0.14,"k":"u"},{"lag":12,"r":0.155,"k":"u"},{"lag":13,"r":0.17,"k":"u"},{"lag":24,"r":0.172,"k":"u"},
{"lag":0.2,"r":-0.125,"k":"l"},{"lag":2,"r":-0.14,"k":"l"},{"lag":12,"r":-0.155,"k":"l"},{"lag":13,"r":-0.17,"k":"l"},{"lag":24,"r":-0.172,"k":"l"}],
"lq1": [{"lag":0.2,"r":0.124,"k":"u"},{"lag":25,"r":0.124,"k":"u"},{"lag":0.2,"r":-0.124,"k":"l"},{"lag":25,"r":-0.124,"k":"l"}],
"lq2": [{"lag":0.2,"r":0.127,"k":"u"},{"lag":24,"r":0.127,"k":"u"},{"lag":0.2,"r":-0.127,"k":"l"},{"lag":24,"r":-0.127,"k":"l"}],
"lq3": [{"lag":0.2,"r":0.125,"k":"u"},{"lag":24,"r":0.125,"k":"u"},{"lag":0.2,"r":-0.125,"k":"l"},{"lag":24,"r":-0.125,"k":"l"}],
"ea2": [{"lag":12.2,"r":-0.42}],
"ea3": [{"lag":1.14,"r":-0.233},{"lag":12.2,"r":-0.52}],
"eq2": [{"lag":1.07,"r":0.345}]
},
"concat": [
{"width":254,"height":140,"title":"Time Series Plot for adjusted NCgas","data":{"name":"ts1"},
 "resolve":{"axis":{"x":"independent","y":"independent"}},
 "layer":[
  {"mark":{"type":"line","color":"#0000ff","strokeWidth":1},
   "encoding":{
    "x":{"field":"t","type":"temporal","scale":{"type":"utc","domain":[{"year":1988,"month":4,"date":8,"utc":true},{"year":2014,"month":8,"date":10,"utc":true}]},"axis":{"title":null,"labelExpr":"utcyear(datum.value) % 5 == 4 ? utcFormat(datum.value, '%-m/%y') : ''","values":[{"year":1989,"utc":true},{"year":1990,"utc":true},{"year":1991,"utc":true},{"year":1992,"utc":true},{"year":1993,"utc":true},{"year":1994,"utc":true},{"year":1995,"utc":true},{"year":1996,"utc":true},{"year":1997,"utc":true},{"year":1998,"utc":true},{"year":1999,"utc":true},{"year":2000,"utc":true},{"year":2001,"utc":true},{"year":2002,"utc":true},{"year":2003,"utc":true},{"year":2004,"utc":true},{"year":2005,"utc":true},{"year":2006,"utc":true},{"year":2007,"utc":true},{"year":2008,"utc":true},{"year":2009,"utc":true},{"year":2010,"utc":true},{"year":2011,"utc":true},{"year":2012,"utc":true},{"year":2013,"utc":true},{"year":2014,"utc":true}]}},
    "y":{"field":"v","type":"quantitative","scale":{"domain":[6.38,10.57],"zero":false,"nice":false},"axis":{"title":"adjusted NCgas","titleX":-33,"labelExpr":"round(datum.value*4) % 4 == 2 ? format(datum.value, '~g') : ''","values":[6.5,6.75,7,7.25,7.5,7.75,8,8.25,8.5,8.75,9,9.25,9.5,9.75,10,10.25,10.5]}}}},
  {"mark":{"type":"point","shape":"square","size":9,"filled":true,"color":"#0000ff","opacity":1},
   "encoding":{
    "x":{"field":"t","type":"temporal","scale":{"type":"utc","domain":[{"year":1988,"month":4,"date":8,"utc":true},{"year":2014,"month":8,"date":10,"utc":true}]},"axis":{"orient":"top","labels":false,"title":null,"values":[{"year":1989,"utc":true},{"year":1990,"utc":true},{"year":1991,"utc":true},{"year":1992,"utc":true},{"year":1993,"utc":true},{"year":1994,"utc":true},{"year":1995,"utc":true},{"year":1996,"utc":true},{"year":1997,"utc":true},{"year":1998,"utc":true},{"year":1999,"utc":true},{"year":2000,"utc":true},{"year":2001,"utc":true},{"year":2002,"utc":true},{"year":2003,"utc":true},{"year":2004,"utc":true},{"year":2005,"utc":true},{"year":2006,"utc":true},{"year":2007,"utc":true},{"year":2008,"utc":true},{"year":2009,"utc":true},{"year":2010,"utc":true},{"year":2011,"utc":true},{"year":2012,"utc":true},{"year":2013,"utc":true},{"year":2014,"utc":true}]}},
    "y":{"field":"v","type":"quantitative","scale":{"domain":[6.38,10.57],"zero":false,"nice":false},"axis":{"orient":"right","labels":false,"title":null,"values":[6.5,6.75,7,7.25,7.5,7.75,8,8.25,8.5,8.75,9,9.25,9.5,9.75,10,10.25,10.5]}}}}
 ]},
{"width":253,"height":140,"title":"Time Series Plot for adjusted NCgas","data":{"name":"ts2"},
 "resolve":{"axis":{"x":"independent","y":"independent"}},
 "layer":[
  {"mark":{"type":"line","color":"#0000ff","strokeWidth":1},
   "encoding":{
    "x":{"field":"t","type":"temporal","scale":{"type":"utc","domain":[{"year":1988,"month":4,"date":8,"utc":true},{"year":2014,"month":8,"date":10,"utc":true}]},"axis":{"title":null,"labelExpr":"utcyear(datum.value) % 5 == 4 ? utcFormat(datum.value, '%-m/%y') : ''","values":[{"year":1989,"utc":true},{"year":1990,"utc":true},{"year":1991,"utc":true},{"year":1992,"utc":true},{"year":1993,"utc":true},{"year":1994,"utc":true},{"year":1995,"utc":true},{"year":1996,"utc":true},{"year":1997,"utc":true},{"year":1998,"utc":true},{"year":1999,"utc":true},{"year":2000,"utc":true},{"year":2001,"utc":true},{"year":2002,"utc":true},{"year":2003,"utc":true},{"year":2004,"utc":true},{"year":2005,"utc":true},{"year":2006,"utc":true},{"year":2007,"utc":true},{"year":2008,"utc":true},{"year":2009,"utc":true},{"year":2010,"utc":true},{"year":2011,"utc":true},{"year":2012,"utc":true},{"year":2013,"utc":true},{"year":2014,"utc":true}]}},
    "y":{"field":"v","type":"quantitative","scale":{"domain":[-0.752,0.948],"zero":false,"nice":false},"axis":{"title":"adjusted NCgas","titleX":-38,"labelExpr":"(round(datum.value*10)+7) % 4 == 0 ? replace(format(datum.value, '~g'), '\u2212', '-') : ''","values":[-0.7,-0.6,-0.5,-0.4,-0.3,-0.2,-0.1,0,0.1,0.2,0.3,0.4,0.5,0.6,0.7,0.8,0.9]}}}},
  {"mark":{"type":"point","shape":"square","size":9,"filled":true,"color":"#0000ff","opacity":1},
   "encoding":{
    "x":{"field":"t","type":"temporal","scale":{"type":"utc","domain":[{"year":1988,"month":4,"date":8,"utc":true},{"year":2014,"month":8,"date":10,"utc":true}]},"axis":{"orient":"top","labels":false,"title":null,"values":[{"year":1989,"utc":true},{"year":1990,"utc":true},{"year":1991,"utc":true},{"year":1992,"utc":true},{"year":1993,"utc":true},{"year":1994,"utc":true},{"year":1995,"utc":true},{"year":1996,"utc":true},{"year":1997,"utc":true},{"year":1998,"utc":true},{"year":1999,"utc":true},{"year":2000,"utc":true},{"year":2001,"utc":true},{"year":2002,"utc":true},{"year":2003,"utc":true},{"year":2004,"utc":true},{"year":2005,"utc":true},{"year":2006,"utc":true},{"year":2007,"utc":true},{"year":2008,"utc":true},{"year":2009,"utc":true},{"year":2010,"utc":true},{"year":2011,"utc":true},{"year":2012,"utc":true},{"year":2013,"utc":true},{"year":2014,"utc":true}]}},
    "y":{"field":"v","type":"quantitative","scale":{"domain":[-0.752,0.948],"zero":false,"nice":false},"axis":{"orient":"right","labels":false,"title":null,"values":[-0.7,-0.6,-0.5,-0.4,-0.3,-0.2,-0.1,0,0.1,0.2,0.3,0.4,0.5,0.6,0.7,0.8,0.9]}}}}
 ]},
{"width":253,"height":140,"title":"Time Series Plot for adjusted NCgas","data":{"name":"ts3"},
 "resolve":{"axis":{"x":"independent","y":"independent"}},
 "layer":[
  {"mark":{"type":"line","color":"#0000ff","strokeWidth":1},
   "encoding":{
    "x":{"field":"t","type":"temporal","scale":{"type":"utc","domain":[{"year":1988,"month":4,"date":8,"utc":true},{"year":2014,"month":8,"date":10,"utc":true}]},"axis":{"title":null,"labelExpr":"utcyear(datum.value) % 5 == 4 ? utcFormat(datum.value, '%-m/%y') : ''","values":[{"year":1989,"utc":true},{"year":1990,"utc":true},{"year":1991,"utc":true},{"year":1992,"utc":true},{"year":1993,"utc":true},{"year":1994,"utc":true},{"year":1995,"utc":true},{"year":1996,"utc":true},{"year":1997,"utc":true},{"year":1998,"utc":true},{"year":1999,"utc":true},{"year":2000,"utc":true},{"year":2001,"utc":true},{"year":2002,"utc":true},{"year":2003,"utc":true},{"year":2004,"utc":true},{"year":2005,"utc":true},{"year":2006,"utc":true},{"year":2007,"utc":true},{"year":2008,"utc":true},{"year":2009,"utc":true},{"year":2010,"utc":true},{"year":2011,"utc":true},{"year":2012,"utc":true},{"year":2013,"utc":true},{"year":2014,"utc":true}]}},
    "y":{"field":"v","type":"quantitative","scale":{"domain":[-0.82,0.85],"zero":false,"nice":false},"axis":{"title":"adjusted NCgas","titleX":-38,"labelExpr":"(round(datum.value*10)+8) % 4 == 0 ? replace(format(datum.value, '~g'), '\u2212', '-') : ''","values":[-0.8,-0.7,-0.6,-0.5,-0.4,-0.3,-0.2,-0.1,0,0.1,0.2,0.3,0.4,0.5,0.6,0.7,0.8]}}}},
  {"mark":{"type":"point","shape":"square","size":9,"filled":true,"color":"#0000ff","opacity":1},
   "encoding":{
    "x":{"field":"t","type":"temporal","scale":{"type":"utc","domain":[{"year":1988,"month":4,"date":8,"utc":true},{"year":2014,"month":8,"date":10,"utc":true}]},"axis":{"orient":"top","labels":false,"title":null,"values":[{"year":1989,"utc":true},{"year":1990,"utc":true},{"year":1991,"utc":true},{"year":1992,"utc":true},{"year":1993,"utc":true},{"year":1994,"utc":true},{"year":1995,"utc":true},{"year":1996,"utc":true},{"year":1997,"utc":true},{"year":1998,"utc":true},{"year":1999,"utc":true},{"year":2000,"utc":true},{"year":2001,"utc":true},{"year":2002,"utc":true},{"year":2003,"utc":true},{"year":2004,"utc":true},{"year":2005,"utc":true},{"year":2006,"utc":true},{"year":2007,"utc":true},{"year":2008,"utc":true},{"year":2009,"utc":true},{"year":2010,"utc":true},{"year":2011,"utc":true},{"year":2012,"utc":true},{"year":2013,"utc":true},{"year":2014,"utc":true}]}},
    "y":{"field":"v","type":"quantitative","scale":{"domain":[-0.82,0.85],"zero":false,"nice":false},"axis":{"orient":"right","labels":false,"title":null,"values":[-0.8,-0.7,-0.6,-0.5,-0.4,-0.3,-0.2,-0.1,0,0.1,0.2,0.3,0.4,0.5,0.6,0.7,0.8]}}}}
 ]},
{"width":248,"height":149,"title":"Estimated Autocorrelations for adjusted NCgas",
 "resolve":{"axis":{"x":"independent","y":"independent"}},
 "encoding":{
  "x":{"field":"lag","type":"quantitative","scale":{"domain":[-0.6,25.8],"nice":false,"zero":false},"axis":{"title":"lag","titleY":22,"labelExpr":"datum.value % 5 == 0 ? datum.label : ''","values":[0,1,2,3,4,5,6,7,8,9,10,11,12,13,14,15,16,17,18,19,20,21,22,23,24,25]}},
  "y":{"field":"r","type":"quantitative","scale":{"domain":[-1.05,1.05],"nice":false},"axis":{"title":"Autocorrelations","titleX":-36,"labelExpr":"(round(datum.value*10)+10) % 4 == 0 ? replace(format(datum.value, '~g'), '\u2212', '-') : ''","values":[-1,-0.9,-0.8,-0.7,-0.6,-0.5,-0.4,-0.3,-0.2,-0.1,0,0.1,0.2,0.3,0.4,0.5,0.6,0.7,0.8,0.9,1]}}},
 "layer":[
  {"data":{"name":"a1"},"mark":{"type":"bar","width":8.5,"fill":"#c0c0c0","stroke":"#333333","strokeWidth":1.5},"encoding":{"y2":{"datum":0}}},
  {"data":{"name":"la1"},"mark":{"type":"line","color":"#ff0000","strokeWidth":1.3},"encoding":{"detail":{"field":"k"},
   "x":{"field":"lag","type":"quantitative","scale":{"domain":[-0.6,25.8],"nice":false,"zero":false},"axis":{"orient":"top","labels":false,"title":null,"values":[0,1,2,3,4,5,6,7,8,9,10,11,12,13,14,15,16,17,18,19,20,21,22,23,24,25]}},
   "y":{"field":"r","type":"quantitative","scale":{"domain":[-1.05,1.05],"nice":false},"axis":{"orient":"right","labels":false,"title":null,"values":[-1,-0.9,-0.8,-0.7,-0.6,-0.5,-0.4,-0.3,-0.2,-0.1,0,0.1,0.2,0.3,0.4,0.5,0.6,0.7,0.8,0.9,1]}}}}
 ]},
{"width":247,"height":149,"title":"Estimated Autocorrelations for adjusted NCgas",
 "resolve":{"axis":{"x":"independent","y":"independent"}},
 "encoding":{
  "x":{"field":"lag","type":"quantitative","scale":{"domain":[-0.6,25.8],"nice":false,"zero":false},"axis":{"title":"lag","titleY":22,"labelExpr":"datum.value % 5 == 0 ? datum.label : ''","values":[0,1,2,3,4,5,6,7,8,9,10,11,12,13,14,15,16,17,18,19,20,21,22,23,24,25]}},
  "y":{"field":"r","type":"quantitative","scale":{"domain":[-1.05,1.05],"nice":false},"axis":{"title":"Autocorrelations","titleX":-36,"labelExpr":"(round(datum.value*10)+10) % 4 == 0 ? replace(format(datum.value, '~g'), '\u2212', '-') : ''","values":[-1,-0.9,-0.8,-0.7,-0.6,-0.5,-0.4,-0.3,-0.2,-0.1,0,0.1,0.2,0.3,0.4,0.5,0.6,0.7,0.8,0.9,1]}}},
 "layer":[
  {"data":{"name":"a2"},"mark":{"type":"bar","width":8.5,"fill":"#c0c0c0","stroke":"#333333","strokeWidth":1.5},"encoding":{"y2":{"datum":0}}},
  {"data":{"name":"la2"},"mark":{"type":"line","color":"#ff0000","strokeWidth":1.3},"encoding":{"detail":{"field":"k"},
   "x":{"field":"lag","type":"quantitative","scale":{"domain":[-0.6,25.8],"nice":false,"zero":false},"axis":{"orient":"top","labels":false,"title":null,"values":[0,1,2,3,4,5,6,7,8,9,10,11,12,13,14,15,16,17,18,19,20,21,22,23,24,25]}},
   "y":{"field":"r","type":"quantitative","scale":{"domain":[-1.05,1.05],"nice":false},"axis":{"orient":"right","labels":false,"title":null,"values":[-1,-0.9,-0.8,-0.7,-0.6,-0.5,-0.4,-0.3,-0.2,-0.1,0,0.1,0.2,0.3,0.4,0.5,0.6,0.7,0.8,0.9,1]}}}},
  {"data":{"name":"ea2"},"mark":{"type":"point","shape":"M -1 0 A 1 0.7 0 1 1 1 0 A 1 0.7 0 1 1 -1 0 Z","size":3249,"filled":false,"color":"#ff0000","strokeWidth":2,"opacity":1},
   "encoding":{"x":{"field":"lag","type":"quantitative","scale":{"domain":[-0.6,25.8],"nice":false,"zero":false},"axis":null},"y":{"field":"r","type":"quantitative","scale":{"domain":[-1.05,1.05],"nice":false},"axis":null}}}
 ]},
{"width":247,"height":149,"title":"Estimated Autocorrelations for adjusted NCgas",
 "resolve":{"axis":{"x":"independent","y":"independent"}},
 "encoding":{
  "x":{"field":"lag","type":"quantitative","scale":{"domain":[-0.6,25.8],"nice":false,"zero":false},"axis":{"title":"lag","titleY":22,"labelExpr":"datum.value % 5 == 0 ? datum.label : ''","values":[0,1,2,3,4,5,6,7,8,9,10,11,12,13,14,15,16,17,18,19,20,21,22,23,24,25]}},
  "y":{"field":"r","type":"quantitative","scale":{"domain":[-1.05,1.05],"nice":false},"axis":{"title":"Autocorrelations","titleX":-36,"labelExpr":"(round(datum.value*10)+10) % 4 == 0 ? replace(format(datum.value, '~g'), '\u2212', '-') : ''","values":[-1,-0.9,-0.8,-0.7,-0.6,-0.5,-0.4,-0.3,-0.2,-0.1,0,0.1,0.2,0.3,0.4,0.5,0.6,0.7,0.8,0.9,1]}}},
 "layer":[
  {"data":{"name":"a3"},"mark":{"type":"bar","width":8.5,"fill":"#c0c0c0","stroke":"#333333","strokeWidth":1.5},"encoding":{"y2":{"datum":0}}},
  {"data":{"name":"la3"},"mark":{"type":"line","color":"#ff0000","strokeWidth":1.3},"encoding":{"detail":{"field":"k"},
   "x":{"field":"lag","type":"quantitative","scale":{"domain":[-0.6,25.8],"nice":false,"zero":false},"axis":{"orient":"top","labels":false,"title":null,"values":[0,1,2,3,4,5,6,7,8,9,10,11,12,13,14,15,16,17,18,19,20,21,22,23,24,25]}},
   "y":{"field":"r","type":"quantitative","scale":{"domain":[-1.05,1.05],"nice":false},"axis":{"orient":"right","labels":false,"title":null,"values":[-1,-0.9,-0.8,-0.7,-0.6,-0.5,-0.4,-0.3,-0.2,-0.1,0,0.1,0.2,0.3,0.4,0.5,0.6,0.7,0.8,0.9,1]}}}},
  {"data":{"name":"ea3"},"mark":{"type":"point","shape":"M -1 0 A 1 0.7 0 1 1 1 0 A 1 0.7 0 1 1 -1 0 Z","size":3249,"filled":false,"color":"#ff0000","strokeWidth":2,"opacity":1},
   "encoding":{"x":{"field":"lag","type":"quantitative","scale":{"domain":[-0.6,25.8],"nice":false,"zero":false},"axis":null},"y":{"field":"r","type":"quantitative","scale":{"domain":[-1.05,1.05],"nice":false},"axis":null}}}
 ]},
{"width":246,"height":139,"title":"Estimated Partial Autocorrelations for adjusted NCgas",
 "resolve":{"axis":{"x":"independent","y":"independent"}},
 "encoding":{
  "x":{"field":"lag","type":"quantitative","scale":{"domain":[-0.6,25.8],"nice":false,"zero":false},"axis":{"title":"lag","titleY":21,"labelExpr":"datum.value % 5 == 0 ? datum.label : ''","values":[0,1,2,3,4,5,6,7,8,9,10,11,12,13,14,15,16,17,18,19,20,21,22,23,24,25]}},
  "y":{"field":"r","type":"quantitative","scale":{"domain":[-1.05,1.05],"nice":false},"axis":{"title":"Partial Autocorrelations","titleX":-35,"labelExpr":"(round(datum.value*10)+10) % 4 == 0 ? replace(format(datum.value, '~g'), '\u2212', '-') : ''","values":[-1,-0.9,-0.8,-0.7,-0.6,-0.5,-0.4,-0.3,-0.2,-0.1,0,0.1,0.2,0.3,0.4,0.5,0.6,0.7,0.8,0.9,1]}}},
 "layer":[
  {"data":{"name":"q1"},"mark":{"type":"bar","width":8.5,"fill":"#c0c0c0","stroke":"#333333","strokeWidth":1.5},"encoding":{"y2":{"datum":0}}},
  {"data":{"name":"lq1"},"mark":{"type":"line","color":"#ff0000","strokeWidth":1.3},"encoding":{"detail":{"field":"k"},
   "x":{"field":"lag","type":"quantitative","scale":{"domain":[-0.6,25.8],"nice":false,"zero":false},"axis":{"orient":"top","labels":false,"title":null,"values":[0,1,2,3,4,5,6,7,8,9,10,11,12,13,14,15,16,17,18,19,20,21,22,23,24,25]}},
   "y":{"field":"r","type":"quantitative","scale":{"domain":[-1.05,1.05],"nice":false},"axis":{"orient":"right","labels":false,"title":null,"values":[-1,-0.9,-0.8,-0.7,-0.6,-0.5,-0.4,-0.3,-0.2,-0.1,0,0.1,0.2,0.3,0.4,0.5,0.6,0.7,0.8,0.9,1]}}}}
 ]},
{"width":245,"height":139,"title":"Estimated Partial Autocorrelations for adjusted NCgas",
 "resolve":{"axis":{"x":"independent","y":"independent"}},
 "encoding":{
  "x":{"field":"lag","type":"quantitative","scale":{"domain":[-0.6,25.8],"nice":false,"zero":false},"axis":{"title":"lag","titleY":21,"labelExpr":"datum.value % 5 == 0 ? datum.label : ''","values":[0,1,2,3,4,5,6,7,8,9,10,11,12,13,14,15,16,17,18,19,20,21,22,23,24,25]}},
  "y":{"field":"r","type":"quantitative","scale":{"domain":[-1.05,1.05],"nice":false},"axis":{"title":"Partial Autocorrelations","titleX":-36,"labelExpr":"(round(datum.value*10)+10) % 4 == 0 ? replace(format(datum.value, '~g'), '\u2212', '-') : ''","values":[-1,-0.9,-0.8,-0.7,-0.6,-0.5,-0.4,-0.3,-0.2,-0.1,0,0.1,0.2,0.3,0.4,0.5,0.6,0.7,0.8,0.9,1]}}},
 "layer":[
  {"data":{"name":"q2"},"mark":{"type":"bar","width":8.5,"fill":"#c0c0c0","stroke":"#333333","strokeWidth":1.5},"encoding":{"y2":{"datum":0}}},
  {"data":{"name":"lq2"},"mark":{"type":"line","color":"#ff0000","strokeWidth":1.3},"encoding":{"detail":{"field":"k"},
   "x":{"field":"lag","type":"quantitative","scale":{"domain":[-0.6,25.8],"nice":false,"zero":false},"axis":{"orient":"top","labels":false,"title":null,"values":[0,1,2,3,4,5,6,7,8,9,10,11,12,13,14,15,16,17,18,19,20,21,22,23,24,25]}},
   "y":{"field":"r","type":"quantitative","scale":{"domain":[-1.05,1.05],"nice":false},"axis":{"orient":"right","labels":false,"title":null,"values":[-1,-0.9,-0.8,-0.7,-0.6,-0.5,-0.4,-0.3,-0.2,-0.1,0,0.1,0.2,0.3,0.4,0.5,0.6,0.7,0.8,0.9,1]}}}},
  {"data":{"name":"eq2"},"mark":{"type":"point","shape":"M -1 0 A 1 0.7 0 1 1 1 0 A 1 0.7 0 1 1 -1 0 Z","size":3249,"filled":false,"color":"#ff0000","strokeWidth":2,"opacity":1},
   "encoding":{"x":{"field":"lag","type":"quantitative","scale":{"domain":[-0.6,25.8],"nice":false,"zero":false},"axis":null},"y":{"field":"r","type":"quantitative","scale":{"domain":[-1.05,1.05],"nice":false},"axis":null}}}
 ]},
{"width":245,"height":139,"title":"Estimated Partial Autocorrelations for adjusted NCgas",
 "resolve":{"axis":{"x":"independent","y":"independent"}},
 "encoding":{
  "x":{"field":"lag","type":"quantitative","scale":{"domain":[-0.6,25.8],"nice":false,"zero":false},"axis":{"title":"lag","titleY":21,"labelExpr":"datum.value % 5 == 0 ? datum.label : ''","values":[0,1,2,3,4,5,6,7,8,9,10,11,12,13,14,15,16,17,18,19,20,21,22,23,24,25]}},
  "y":{"field":"r","type":"quantitative","scale":{"domain":[-1.05,1.05],"nice":false},"axis":{"title":"Partial Autocorrelations","titleX":-36,"labelExpr":"(round(datum.value*10)+10) % 4 == 0 ? replace(format(datum.value, '~g'), '\u2212', '-') : ''","values":[-1,-0.9,-0.8,-0.7,-0.6,-0.5,-0.4,-0.3,-0.2,-0.1,0,0.1,0.2,0.3,0.4,0.5,0.6,0.7,0.8,0.9,1]}}},
 "layer":[
  {"data":{"name":"q3"},"mark":{"type":"bar","width":8.5,"fill":"#c0c0c0","stroke":"#333333","strokeWidth":1.5},"encoding":{"y2":{"datum":0}}},
  {"data":{"name":"lq3"},"mark":{"type":"line","color":"#ff0000","strokeWidth":1.3},"encoding":{"detail":{"field":"k"},
   "x":{"field":"lag","type":"quantitative","scale":{"domain":[-0.6,25.8],"nice":false,"zero":false},"axis":{"orient":"top","labels":false,"title":null,"values":[0,1,2,3,4,5,6,7,8,9,10,11,12,13,14,15,16,17,18,19,20,21,22,23,24,25]}},
   "y":{"field":"r","type":"quantitative","scale":{"domain":[-1.05,1.05],"nice":false},"axis":{"orient":"right","labels":false,"title":null,"values":[-1,-0.9,-0.8,-0.7,-0.6,-0.5,-0.4,-0.3,-0.2,-0.1,0,0.1,0.2,0.3,0.4,0.5,0.6,0.7,0.8,0.9,1]}}}}
 ]},
{"width":254,"height":1,"view":{"stroke":null},"data":{"values":[{}]},"mark":{"type":"text","text":""},
 "title":{"text":"Original series: nonstationary","fontSize":21,"anchor":"start","frame":"group","dx":-46,"dy":25,"offset":0,"baseline":"alphabetic"}},
{"width":253,"height":1,"view":{"stroke":null},"data":{"values":[{}]},"mark":{"type":"text","text":""},
 "title":{"text":"Seas. diff: need AR(1) & SMA(1)","fontSize":21,"anchor":"start","frame":"group","dx":-56,"dy":25,"offset":0,"baseline":"alphabetic"}},
{"width":253,"height":1,"view":{"stroke":null},"data":{"values":[{}]},"mark":{"type":"text","text":""},
 "title":{"text":"Both diff: \u00a0need MA(1) & SMA(1)","fontSize":21,"anchor":"start","frame":"group","dx":-48,"dy":25,"offset":0,"baseline":"alphabetic"}}
],
"config": {
 "font": "Liberation Sans",
 "view": {"stroke": "#333333", "strokeWidth": 1.5},
 "title": {"fontSize": 8.5, "fontWeight": "normal", "color": "#000000", "offset": 16, "baseline": "bottom", "frame": "group", "anchor": "middle"},
 "axis": {"domain": false, "grid": false, "tickColor": "#333333", "tickSize": -4, "labelPadding": 8, "labelFontSize": 8.5, "labelColor": "#000000", "titleFontSize": 9.5, "titleFontWeight": "normal", "titleColor": "#000000", "labelFlush": false, "labelOverlap": false, "titleBaseline": "middle"}
}
}
